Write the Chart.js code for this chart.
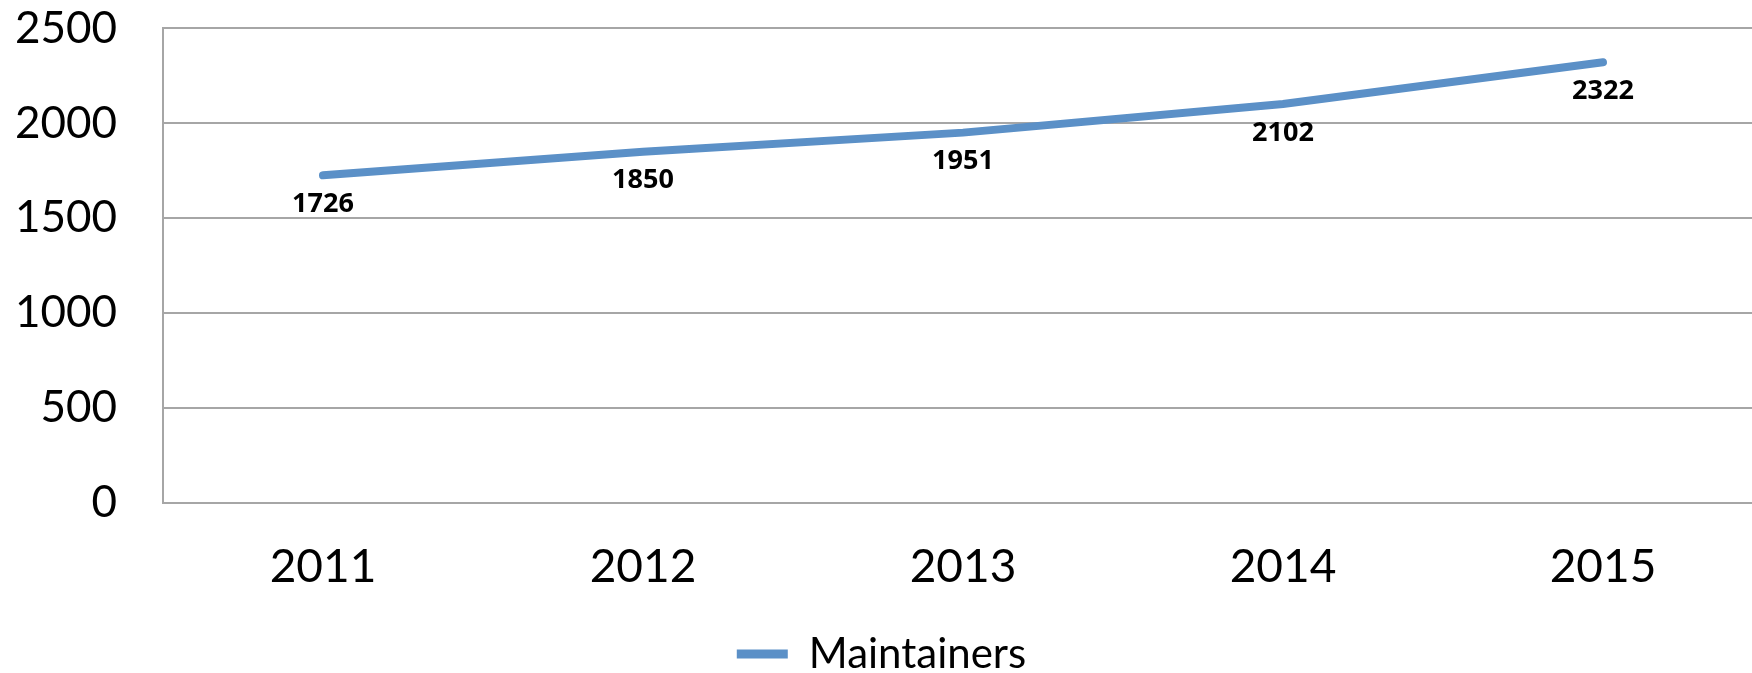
<!DOCTYPE html>
<html>
<head>
<meta charset="utf-8">
<script src="https://cdn.jsdelivr.net/npm/chart.js@4/dist/chart.umd.min.js"></script>
<style>
	html, body { margin: 0; padding: 0; background: #fff; overflow: hidden; }
	#wrap { width: 1763px; height: 729px; position: relative; margin-top: -44px; }
</style>
</head>
<body>
<div id="wrap"><canvas id="chart-maintainers"></canvas></div>
<script>
	// data
	const years = ['2011', '2012', '2013', '2014', '2015'];
	const maintainers = [1726, 1850, 1951, 2102, 2322];
	const yTicks = [0, 500, 1000, 1500, 2000, 2500];

	const lineColor = 'rgb(91,144,199)';
	const gridColor = '#a6a6a6';
	const tickFont = 'Lato';

	// value labels under each point
	const valueLabels = {
		id: 'valueLabels',
		afterDatasetsDraw: function(chart) {
			let ctx = chart.ctx;
			let meta = chart.getDatasetMeta(0);
			ctx.save();
			ctx.font = 'bold 27px "Open Sans"';
			ctx.fillStyle = '#000';
			ctx.textAlign = 'center';
			ctx.textBaseline = 'middle';
			meta.data.forEach(function(pt, i) {
				ctx.fillText(maintainers[i], pt.x, pt.y + 29);
			});
			ctx.restore();
		}
	};

	var configChart = {
		type: 'line',
		data: {
			labels: years,
			datasets: [{
				label: 'Maintainers',
				data: maintainers,
				borderColor: lineColor,
				backgroundColor: lineColor,
				borderWidth: 8,
				borderCapStyle: 'round',
				pointRadius: 0,
				tension: 0
			}]
		},
		options: {
			responsive: true,
			maintainAspectRatio: false,
			animation: false,
			layout: { padding: { top: 0, left: 0, right: 0, bottom: 0 } },
			scales: {
				x: {
					offset: true,
					grid: { display: false, drawTicks: false, offset: false },
					border: { display: true, color: gridColor, width: 2 },
					ticks: {
						padding: 37,
						color: '#000',
						font: { family: tickFont, size: 46 }
					},
					afterFit: function(scale) { scale.height = 120; }
				},
				y: {
					min: 0,
					max: 2500,
					afterBuildTicks: function(scale) {
						scale.ticks = yTicks.map(v => ({ value: v }));
					},
					grid: { color: gridColor, lineWidth: 2, drawTicks: false },
					border: { display: true, color: gridColor, width: 2 },
					ticks: {
						padding: 46,
						color: '#000',
						font: { family: tickFont, size: 44 },
						callback: function(value) { return String(value); }
					},
					afterFit: function(scale) { scale.width = 163; }
				}
			},
			plugins: {
				legend: {
					display: true,
					position: 'bottom',
					labels: {
						color: '#000',
						font: { family: tickFont, size: 42 },
						boxWidth: 51,
						boxHeight: 9,
						padding: 10,
						generateLabels: function(chart) {
							return [{
								text: 'Maintainers',
								fillStyle: lineColor,
								strokeStyle: lineColor,
								lineWidth: 0,
								datasetIndex: 0
							}];
						}
					}
				},
				tooltip: { enabled: false }
			}
		},
		plugins: [valueLabels]
	};

	var ctx = document.getElementById('chart-maintainers').getContext('2d');
	chartMaintainers = new Chart(ctx, configChart);
</script>
</body>
</html>
